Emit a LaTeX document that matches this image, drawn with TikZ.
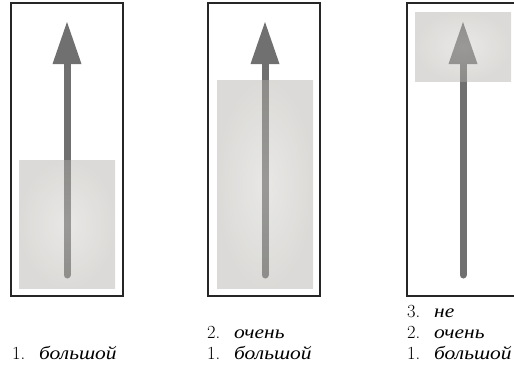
\documentclass[tikz,border=0pt]{standalone}
\usepackage{fontspec}
\newfontfamily\cyrfont{Liberation Serif}[FakeStretch=1.16]
\definecolor{paper}{HTML}{B0AEA8}
\definecolor{paperlight}{HTML}{CDCBC7}
\tikzset{
  frame/.style={draw=black!85, line width=1.2pt},
  cloud/.style={inner color=paperlight, outer color=paper, opacity=0.45},
  shaft/.style={draw=black!56, line width=7pt, line cap=round},
  head/.style={fill=black!56},
  lbl/.style={anchor=base west, inner sep=0pt, font=\fontsize{18.5}{21}\selectfont},
}
\newcommand{\word}[2]{#1.\hspace{0.75em}{\cyrfont\itshape #2}}
\begin{document}
\begin{tikzpicture}[x=1pt, y=-1pt]
  \useasboundingbox (0,0) rectangle (514,365);
  % three panels: frame left x, arrow x, fill left/right/top/bottom
  \foreach \fx/\cx/\fl/\fr/\ft/\fb [count=\i] in
      {11/67/19/115/160/288, 208/265/217/313/80/288, 407/463/415/511/12/81} {
    \draw[frame] (\fx,3) rectangle ++(112,293);
    \coordinate (tail\i) at (\cx,275);
    \coordinate (base\i) at (\cx,64);
    \coordinate (tip\i) at (\cx,22);
    \draw[shaft] (tail\i) -- (base\i);
    \fill[head] ([xshift=-14.5pt]base\i) -- (tip\i) -- ([xshift=14.5pt]base\i) -- cycle;
    \shade[cloud] (\fl,\ft) rectangle (\fr,\fb);
  }
  % stacked word labels under each panel
  \node[lbl] (a1) at (12,359) {\word{1}{большой}};
  \node[lbl] (b2) at (207,338) {\word{2}{очень}};
  \node[lbl] (b1) at (207,359) {\word{1}{большой}};
  \node[lbl] (c3) at (407,317) {\word{3}{не}};
  \node[lbl] (c2) at (407,338) {\word{2}{очень}};
  \node[lbl] (c1) at (407,359) {\word{1}{большой}};
\end{tikzpicture}
\end{document}
